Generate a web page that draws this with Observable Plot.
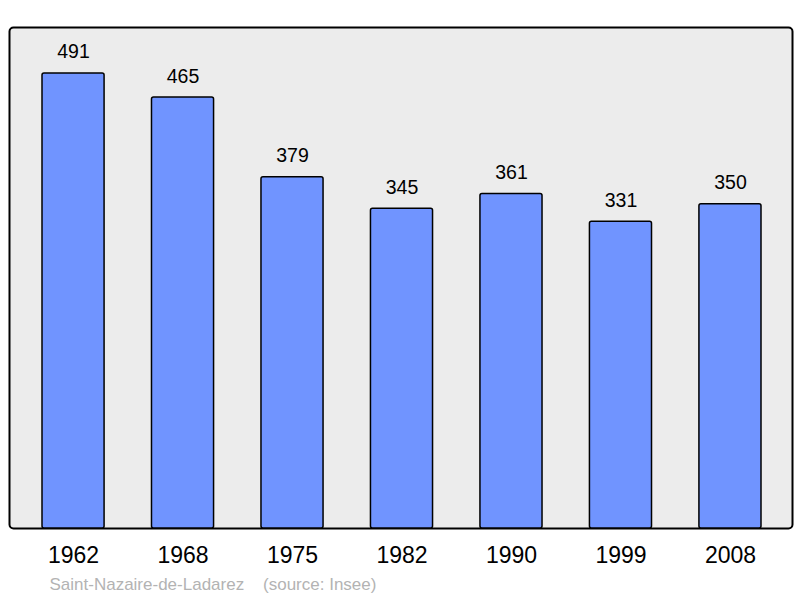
<!DOCTYPE html>
<html><head><meta charset="utf-8">
<script src="https://cdn.jsdelivr.net/npm/d3@7"></script>
<script src="https://cdn.jsdelivr.net/npm/@observablehq/plot@0.6"></script>
<style>body{margin:0;background:#fff}svg{display:block}</style>
</head><body><div id="chart"></div>
<script>
const years = ["1962","1968","1975","1982","1990","1999","2008"];
const population = [491,465,379,345,361,331,350];
const caption = "Saint-Nazaire-de-Ladarez    (source: Insee)";
const data = years.map((y,i)=>({year:y, pop:population[i]}));
const font = "Liberation Sans, Arial, sans-serif";
const chart = Plot.plot({
  width: 800, height: 598,
  marginLeft: 9, marginRight: 8, marginTop: 27, marginBottom: 70,
  style: {fontFamily: font, background: "#fff"},
  x: {domain: years, range: [42, 761], paddingInner: 0.433, paddingOuter: 0, round: false, label: null},
  y: {domain: [0, 540.6], axis: null},
  marks: [
    Plot.frame({fill: "#ececec", stroke: "#000", strokeWidth: 2, rx: 4}),
    Plot.barY(data, {x: "year", y: "pop", fill: "#7094ff", stroke: "#000", strokeWidth: 1.5, rx: 2}),
    Plot.text(data, {x: "year", y: "pop", text: d => String(d.pop), dy: -15, lineAnchor: "bottom", fontSize: 19.5, fill: "#000"}),
    Plot.axisX({tickSize: 0, tickPadding: 18, fontSize: 23, fill: "#000"}),
    Plot.text([caption], {frameAnchor: "bottom-left", dx: 40, dy: 61, textAnchor: "start", fontSize: 17, fill: "#b3b3b3", text: d => d, style: "white-space:pre"})
  ]
});
document.getElementById("chart").appendChild(chart);
</script></body></html>
